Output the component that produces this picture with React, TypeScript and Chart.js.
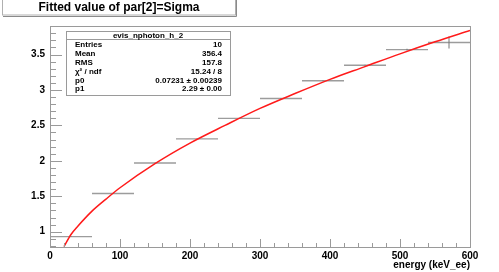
import React, { useEffect, useRef } from "react";
import { Chart, registerables } from "chart.js";

Chart.register(...registerables);

// ---- data ----
const binEdges = [0, 60, 120, 180, 240, 300, 360, 420, 480, 540, 600];
const binValues = [0.93, 1.54, 1.97, 2.31, 2.6, 2.88, 3.13, 3.35, 3.57, 3.67];
const binErrors = [0.004, 0.004, 0.004, 0.004, 0.005, 0.005, 0.006, 0.006, 0.012, 0.085];
const fitEnergies = [20, 30, 40, 60, 80, 100, 150, 200, 250, 300, 350, 400, 450, 500, 550, 600];
const fitValues = [0.79, 0.96, 1.08, 1.29, 1.46, 1.62, 1.96, 2.25, 2.5, 2.74, 2.95, 3.15, 3.33, 3.51, 3.68, 3.84];
const xTicks = [0, 100, 200, 300, 400, 500, 600];
const xMinorStep = 20;
const yTicks = [1, 1.5, 2, 2.5, 3, 3.5];
const yMinorStep = 0.1;
const xRange = [0, 600];
const yRange = [0.784, 3.903];
const statsLabels = ["Entries", "Mean", "RMS", "χ² / ndf", "p0", "p1"];
const statsValues = ["10", "356.4", "157.8", "15.24 / 8", "0.07231 ± 0.00239", "2.29 ± 0.00"];
const histName = "evis_nphoton_h_2";
const titleText = "Fitted value of par[2]=Sigma";
const xTitle = "energy (keV_ee)";

const FONT = "'Liberation Sans', Arial, Helvetica, sans-serif";

const rootPlugin = {
  id: "rootDecor",
  afterDraw(chart: any) {
    const ctx = chart.ctx as CanvasRenderingContext2D;
    const { left, right, top, bottom } = chart.chartArea;
    const xs = chart.scales.x;
    const ys = chart.scales.y;
    ctx.save();
    // frame
    ctx.strokeStyle = "#9a9a9a";
    ctx.lineWidth = 1;
    ctx.strokeRect(Math.round(left) + 0.5, Math.round(top) + 0.5, Math.round(right - left), Math.round(bottom - top));
    // y ticks
    ctx.beginPath();
    const nMinY = Math.round((yRange[1] - yRange[0]) / yMinorStep) + 2;
    const y0 = Math.ceil(yRange[0] / yMinorStep) * yMinorStep;
    for (let i = 0; i < nMinY; i++) {
      const v = +(y0 + i * yMinorStep).toFixed(4);
      if (v > yRange[1]) break;
      const isMajor = yTicks.some((t) => Math.abs(t - v) < 1e-6);
      const py = Math.round(ys.getPixelForValue(v)) + 0.5;
      ctx.moveTo(left, py);
      ctx.lineTo(left + (isMajor ? 12 : 6), py);
    }
    // x ticks
    for (let v = xRange[0]; v <= xRange[1]; v += xMinorStep) {
      const isMajor = xTicks.includes(v);
      const px = Math.round(xs.getPixelForValue(v)) + 0.5;
      ctx.moveTo(px, bottom);
      ctx.lineTo(px, bottom - (isMajor ? 8 : 4));
    }
    ctx.stroke();

    // x-axis title
    ctx.fillStyle = "#000";
    ctx.font = `bold 10px ${FONT}`;
    ctx.textAlign = "right";
    ctx.textBaseline = "middle";
    ctx.fillText(xTitle, right, 265);

    // title box
    ctx.fillStyle = "#fff";
    ctx.fillRect(2, 0, 234, 15);
    ctx.strokeStyle = "#b0b0b0";
    ctx.strokeRect(2.5, -0.5, 233, 15.5);
    ctx.strokeStyle = "#8a8a8a";
    ctx.beginPath();
    ctx.moveTo(236.5, 0);
    ctx.lineTo(236.5, 16.5);
    ctx.lineTo(3, 16.5);
    ctx.stroke();
    ctx.fillStyle = "#000";
    ctx.font = `bold 12px ${FONT}`;
    ctx.textAlign = "center";
    ctx.textBaseline = "middle";
    ctx.fillText(titleText, 119, 8);

    // stats box
    const bx = 66, by = 31, bw = 164, bh = 64;
    ctx.fillStyle = "#fff";
    ctx.fillRect(bx, by, bw, bh);
    ctx.strokeStyle = "#9a9a9a";
    ctx.strokeRect(bx + 0.5, by + 0.5, bw, bh);
    ctx.beginPath();
    ctx.moveTo(bx, by + 8.5);
    ctx.lineTo(bx + bw, by + 8.5);
    ctx.stroke();
    ctx.fillStyle = "#000";
    ctx.font = `bold 8px ${FONT}`;
    ctx.textAlign = "center";
    ctx.fillText(histName, bx + bw / 2, by + 4.5);
    for (let i = 0; i < statsLabels.length; i++) {
      const ty = 45 + i * 8.85;
      ctx.textAlign = "left";
      ctx.fillText(statsLabels[i], 75, ty);
      ctx.textAlign = "right";
      ctx.fillText(statsValues[i], 222, ty);
    }
    ctx.restore();
  },
};

export default function App() {
  const ref = useRef<HTMLCanvasElement | null>(null);
  useEffect(() => {
    if (!ref.current) return;
    const histData: any[] = [];
    const errData: any[] = [];
    for (let i = 0; i < binValues.length; i++) {
      const lo = binEdges[i], hi = binEdges[i + 1];
      histData.push({ x: lo, y: binValues[i] }, { x: hi, y: binValues[i] }, { x: hi, y: null });
      const c = (lo + hi) / 2;
      errData.push({ x: c, y: binValues[i] - binErrors[i] }, { x: c, y: binValues[i] + binErrors[i] }, { x: c, y: null });
    }
    const fitData = fitEnergies.map((x, i) => ({ x, y: fitValues[i] }));
    const chart = new Chart(ref.current, {
      type: "scatter",
      data: {
        datasets: [
          {
            data: histData,
            showLine: true,
            spanGaps: false,
            borderColor: "#9c9c9c",
            borderWidth: 1.4,
            pointRadius: 0,
            order: 3,
          },
          {
            data: errData,
            showLine: true,
            spanGaps: false,
            borderColor: "#777",
            borderWidth: 1,
            pointRadius: 0,
            order: 2,
          },
          {
            data: fitData,
            showLine: true,
            borderColor: "#ff1a1a",
            borderWidth: 1.5,
            pointRadius: 0,
            cubicInterpolationMode: "monotone",
            order: 1,
          } as any,
        ],
      },
      options: {
        responsive: false,
        animation: false,
        events: [],
        layout: { padding: { top: 26, right: 29, left: 0, bottom: 0 } },
        plugins: {
          legend: { display: false },
          tooltip: { enabled: false },
          title: { display: false },
        },
        scales: {
          x: {
            type: "linear",
            min: xRange[0],
            max: xRange[1],
            grid: { display: false, drawTicks: false },
            border: { display: false },
            afterBuildTicks: (s: any) => {
              s.ticks = xTicks.map((v) => ({ value: v }));
            },
            afterFit: (s: any) => {
              s.height = 25;
            },
            ticks: {
              padding: 3,
              autoSkip: false,
              maxRotation: 0,
              color: "#000",
              font: { family: FONT, weight: "bold", size: 10 },
              callback: (v: any) => String(v),
            },
          },
          y: {
            type: "linear",
            min: yRange[0],
            max: yRange[1],
            grid: { display: false, drawTicks: false },
            border: { display: false },
            afterBuildTicks: (s: any) => {
              s.ticks = yTicks.map((v) => ({ value: v }));
            },
            afterFit: (s: any) => {
              s.width = 50;
            },
            ticks: {
              padding: 5,
              autoSkip: false,
              color: "#000",
              font: { family: FONT, weight: "bold", size: 10 },
              callback: (v: any) => String(v),
            },
          },
        },
      } as any,
      plugins: [rootPlugin],
    });
    return () => chart.destroy();
  }, []);
  return (
    <div style={{ position: "fixed", left: 0, top: 0, width: 499, height: 272, background: "#fff" }}>
      <canvas ref={ref} width={499} height={272} style={{ display: "block" }} />
    </div>
  );
}
